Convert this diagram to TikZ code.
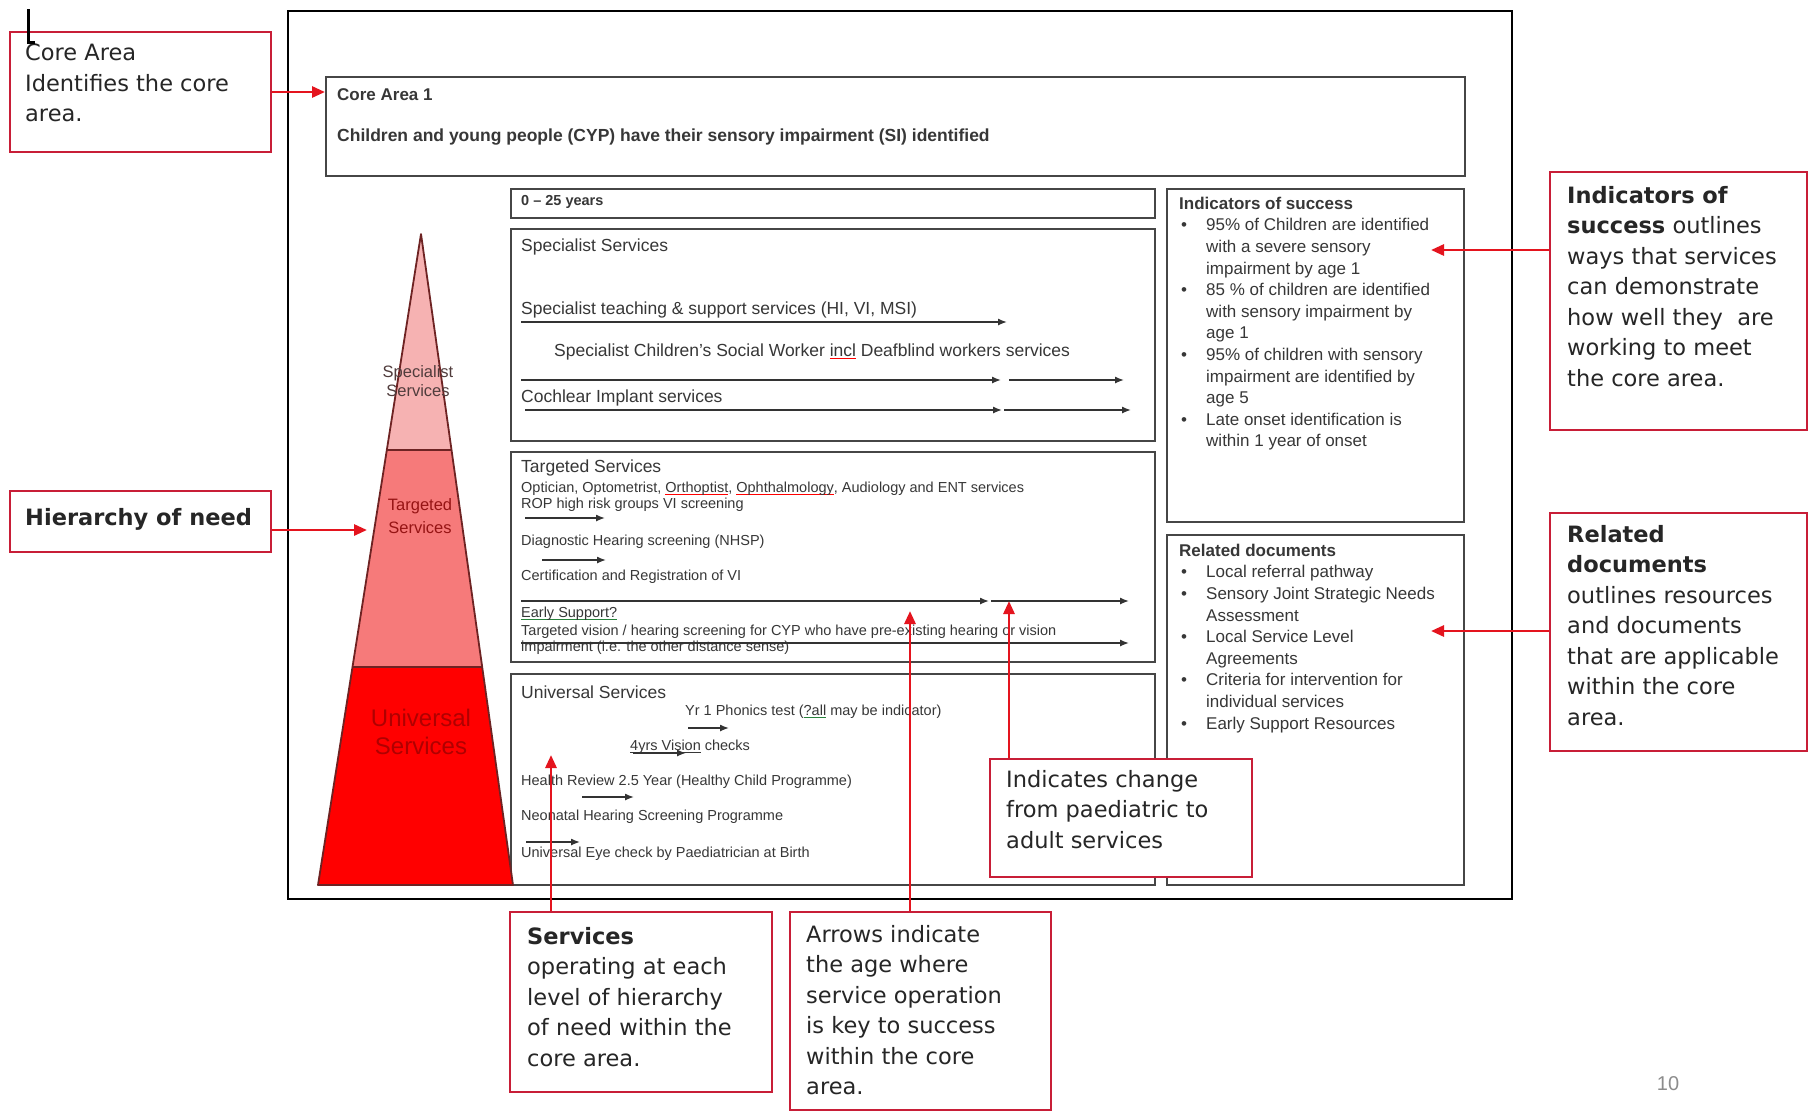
\documentclass[tikz,border=0pt]{standalone}
\usepackage{fontspec}
\setmainfont{Liberation Sans}
\newfontfamily\calfont{DejaVu Sans}
\usetikzlibrary{arrows.meta,calc}
\definecolor{calred}{RGB}{200,30,55}
\definecolor{arrred}{RGB}{228,20,30}
\definecolor{boxgrey}{RGB}{70,70,70}
\definecolor{txtgrey}{RGB}{55,55,55}
\definecolor{pyrtop}{RGB}{246,178,178}
\definecolor{pyrmid}{RGB}{246,122,122}
\definecolor{pyrbot}{RGB}{255,0,0}
\definecolor{pyrline}{RGB}{110,35,35}
\definecolor{spgreen}{RGB}{40,130,60}
\newcommand\ulc[2]{\setbox0\hbox{#2}\rlap{\color{#1}\rule[-2.5pt]{\wd0}{0.9pt}}\box0\relax}
\begin{document}
\begin{tikzpicture}[x=1pt,y=-1pt,
  callout/.style={draw=calred, line width=2pt, fill=white, inner sep=0, anchor=north west},
  ctext/.style={inner sep=0, anchor=north west, align=left, text=black!85, font=\calfont\fontsize{22.5}{30.5}\selectfont},
  ibox/.style={draw=boxgrey, line width=1.8pt, inner sep=0, anchor=north west},
  itext/.style={inner sep=0, anchor=west, text=txtgrey, font=\fontsize{17.5}{21.5}\selectfont},
  stext/.style={inner sep=0, anchor=west, text=txtgrey, font=\fontsize{14.5}{16}\selectfont},
  ltext/.style={inner sep=0, anchor=north west, text=txtgrey, font=\fontsize{17}{21.6}\selectfont},
  tl/.style={-{Latex[length=9pt,width=7pt]}, line width=1.4pt, black!80},
  redarr/.style={-{Triangle[length=13pt,width=11pt]}, line width=2.8pt, arrred},
  pyrtext/.style={inner sep=0, align=center}]
\useasboundingbox (0,0) rectangle (1809,1112);
\fill[white] (0,0) rectangle (1809,1112);
% outer frame
\node[draw=black, line width=2.2pt, minimum width=1224, minimum height=888, anchor=north west, inner sep=0] (frame) at (287,10) {};
% core area box
\node[ibox, minimum width=1139, minimum height=99] (ca1) at (325,76) {};
\node[itext, font=\bfseries\fontsize{17}{21}\selectfont] (ca1t) at (337,95) {Core Area 1};
\node[itext, font=\bfseries\fontsize{17.5}{21}\selectfont] (ca1s) at (337,137) {Children and young people (CYP) have their sensory impairment (SI) identified};
% age box
\node[ibox, minimum width=644, minimum height=29] (age) at (510,188) {};
\node[itext, font=\bfseries\fontsize{14.5}{17}\selectfont] (aget) at (521,202) {0 -- 25 years};
% service boxes
\node[ibox, minimum width=644, minimum height=212] (spec) at (510,228) {};
\node[ibox, minimum width=644, minimum height=210] (targ) at (510,451) {};
\node[ibox, minimum width=644, minimum height=211] (univ) at (510,673) {};
\node[ibox, minimum width=297, minimum height=333] (ind) at (1166,188) {};
\node[ibox, minimum width=297, minimum height=350] (rel) at (1166,534) {};
% specialist texts
\node[itext] (sp0) at (521,247) {Specialist Services};
\node[itext] (sp1) at (521,310) {Specialist teaching \& support services (HI, VI, MSI)};
\node[itext] (sp2) at (554,352) {Specialist Children's Social Worker \ulc{red}{incl} Deafblind workers services};
\node[itext] (sp3) at (521,398) {Cochlear Implant services};
% targeted texts
\node[itext] (tg0) at (521,468) {Targeted Services};
\node[stext] (tg1) at (521,489) {Optician, Optometrist, \ulc{red}{Orthoptist}, \ulc{red}{Ophthalmology}, Audiology and ENT services};
\node[stext] (tg2) at (521,505) {ROP high risk groups VI screening};
\node[stext] (tg3) at (521,542) {Diagnostic Hearing screening (NHSP)};
\node[stext] (tg4) at (521,577) {Certification and Registration of VI};
\node[stext] (tg5) at (521,614) {\ulc{spgreen}{Early Support?}};
\node[stext] (tg6) at (521,632) {Targeted vision / hearing screening for CYP who have pre-existing hearing or vision};
\node[stext] (tg7) at (521,648) {impairment (i.e. the other distance sense)};
% universal texts
\node[itext] (un0) at (521,692) {Universal Services};
\node[stext] (un1) at (685,712) {Yr 1 Phonics test (\ulc{spgreen}{?all} may be indicator)};
\node[stext] (un2) at (630,747) {\ulc{txtgrey}{4yrs Vision} checks};
\node[stext] (un3) at (521,782) {Health Review 2.5 Year (Healthy Child Programme)};
\node[stext] (un4) at (521,817) {Neonatal Hearing Screening Programme};
\node[stext] (un5) at (521,854) {Universal Eye check by Paediatrician at Birth};
% timeline arrows
\coordinate (s1a) at (521,322); \coordinate (s1b) at (1007,322);
\coordinate (s2a) at (521,380); \coordinate (s2b) at (1001,380);
\coordinate (s2c) at (1009,380); \coordinate (s2d) at (1124,380);
\coordinate (s3a) at (525,410); \coordinate (s3b) at (1002,410);
\coordinate (s3c) at (1004,410); \coordinate (s3d) at (1131,410);
\coordinate (t1a) at (525,518); \coordinate (t1b) at (605,518);
\coordinate (t2a) at (542,560); \coordinate (t2b) at (606,560);
\coordinate (t3a) at (521,601); \coordinate (t3b) at (989,601);
\coordinate (t3c) at (991,601); \coordinate (t3d) at (1129,601);
\coordinate (t4a) at (521,643); \coordinate (t4b) at (1129,643);
\coordinate (u1a) at (688,728); \coordinate (u1b) at (729,728);
\coordinate (u2a) at (633,753); \coordinate (u2b) at (686,753);
\coordinate (u3a) at (582,797); \coordinate (u3b) at (634,797);
\coordinate (u4a) at (526,842); \coordinate (u4b) at (580,842);
\foreach \a/\b in {s1a/s1b,s2a/s2b,s2c/s2d,s3a/s3b,s3c/s3d,t1a/t1b,t2a/t2b,t3a/t3b,t3c/t3d,t4a/t4b,u1a/u1b,u2a/u2b,u3a/u3b,u4a/u4b}
  \draw[tl] (\a) -- (\b);
% indicators list
\node[ltext] (indl) at (1179,194) {\begin{tabular}{@{}p{27pt}@{}l@{}}
\multicolumn{2}{@{}l@{}}{\bfseries Indicators of success}\\
\hspace*{2pt}\textbullet & 95\% of Children are identified\\
 & with a severe sensory\\
 & impairment by age 1\\
\hspace*{2pt}\textbullet & 85 \% of children are identified\\
 & with sensory impairment by\\
 & age 1\\
\hspace*{2pt}\textbullet & 95\% of children with sensory\\
 & impairment are identified by\\
 & age 5\\
\hspace*{2pt}\textbullet & Late onset identification is\\
 & within 1 year of onset
\end{tabular}};
\node[ltext] (rell) at (1179,541) {\begin{tabular}{@{}p{27pt}@{}l@{}}
\multicolumn{2}{@{}l@{}}{\bfseries Related documents}\\
\hspace*{2pt}\textbullet & Local referral pathway\\
\hspace*{2pt}\textbullet & Sensory Joint Strategic Needs\\
 & Assessment\\
\hspace*{2pt}\textbullet & Local Service Level\\
 & Agreements\\
\hspace*{2pt}\textbullet & Criteria for intervention for\\
 & individual services\\
\hspace*{2pt}\textbullet & Early Support Resources
\end{tabular}};
% pyramid
\coordinate (apex) at (421,234);
\coordinate (bl) at (318,885); \coordinate (br) at (513,885);
\coordinate (l1) at (386.8,450); \coordinate (r1) at (451.5,450);
\coordinate (l2) at (352.5,667); \coordinate (r2) at (482.2,667);
\fill[pyrtop] (apex) -- (r1) -- (l1) -- cycle;
\fill[pyrmid] (l1) -- (r1) -- (r2) -- (l2) -- cycle;
\fill[pyrbot] (l2) -- (r2) -- (br) -- (bl) -- cycle;
\draw[pyrline, line width=1.8pt, line join=round] (apex) -- (br) -- (bl) -- cycle;
\draw[pyrline, line width=1.6pt] (l1) -- (r1) (l2) -- (r2);
\node[pyrtext, text={rgb,255:red,80;green,60;blue,60}, font=\fontsize{16.5}{19}\selectfont] (pys) at (418,381) {Specialist\\Services};
\node[pyrtext, text={rgb,255:red,150;green,20;blue,20}, font=\fontsize{16.5}{23}\selectfont] (pyt) at (420,516) {Targeted\\Services};
\node[pyrtext, text={rgb,255:red,175;green,0;blue,0}, font=\fontsize{24}{28}\selectfont] (pyu) at (421,732) {Universal\\Services};
% callouts
\node[callout, minimum width=261, minimum height=120] (coreC) at (9,31) {};
\node[ctext] (coreCt) at (25,44) {Core Area\\Identifies the core\\area.};
\node[callout, minimum width=261, minimum height=61] (hierC) at (9,490) {};
\node[ctext, anchor=west, font=\calfont\bfseries\fontsize{22.5}{30.5}\selectfont] (hierCt) at (25,519) {Hierarchy of need};
\node[callout, minimum width=257, minimum height=258] (indC) at (1549,171) {};
\node[ctext] (indCt) at (1567,186) {\textbf{Indicators of}\\\textbf{success} outlines\\ways that services\\can demonstrate\\how well they~ are\\working to meet\\the core area.};
\node[callout, minimum width=257, minimum height=238] (relC) at (1549,512) {};
\node[ctext] (relCt) at (1567,525) {\textbf{Related}\\\textbf{documents}\\outlines resources\\and documents\\that are applicable\\within the core\\area.};
\node[callout, minimum width=262, minimum height=180] (servC) at (509,911) {};
\node[ctext] (servCt) at (527,927) {\textbf{Services}\\operating at each\\level of hierarchy\\of need within the\\core area.};
\node[callout, minimum width=261, minimum height=198] (arrC) at (789,911) {};
\node[ctext] (arrCt) at (806,925) {Arrows indicate\\the age where\\service operation\\is key to success\\within the core\\area.};
\node[callout, minimum width=262, minimum height=118] (indcC) at (989,758) {};
\node[ctext] (indcCt) at (1006,770) {Indicates change\\from paediatric to\\adult services};
% cursor mark
\draw[line width=3pt, black] (28,9) -- (28,42) -- (35,42);
% red connectors
\coordinate (hierT) at (367,530);
\coordinate (indT) at (1431,250);
\coordinate (relT) at (1431,631);
\coordinate (servT) at (551,755);
\coordinate (arrT) at (910,611);
\coordinate (indcT) at (1009,601);
\draw[redarr] (coreC.east) -- (coreC.east -| ca1.west);
\draw[redarr] (hierC.east |- hierT) -- (hierT);
\draw[redarr] (indC.west |- indT) -- (indT);
\draw[redarr] (relC.west |- relT) -- (relT);
\draw[redarr] (servC.north -| servT) -- (servT);
\draw[redarr] (arrC.north -| arrT) -- (arrT);
\draw[redarr] (indcC.north -| indcT) -- (indcT);
% page number
\node[text=black!45, font=\fontsize{20}{24}\selectfont, inner sep=0] (pg) at (1668,1084) {10};
\end{tikzpicture}
\end{document}
